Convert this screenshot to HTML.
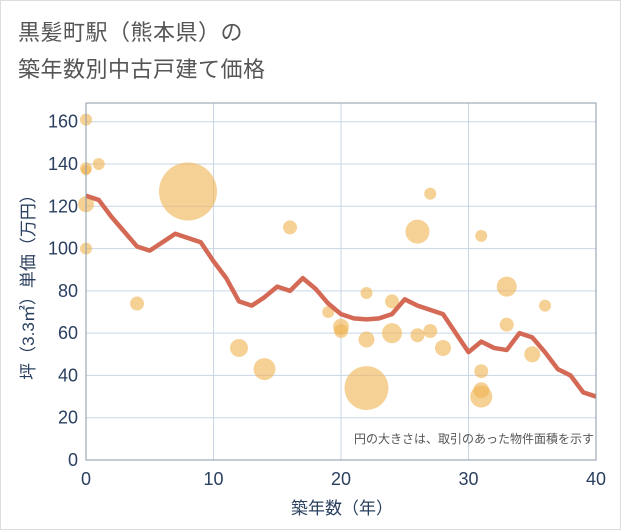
<!DOCTYPE html>
<html><head><meta charset="utf-8"><style>
body{margin:0;background:#fff;}
svg{display:block;font-family:"Liberation Sans","Noto Sans CJK JP",sans-serif;}
</style></head><body>
<svg id="c" width="621" height="530" viewBox="0 0 621 530">
<rect x="0.5" y="0.5" width="620" height="529" fill="#fff" stroke="#ddd"/>
<text x="18" y="40" font-size="22" fill="#555" letter-spacing="0.5">黒髪町駅（熊本県）の</text>
<text x="18" y="77" font-size="22" fill="#555" letter-spacing="0.5">築年数別中古戸建て価格</text>
<g id="grid"></g>
<g id="bubbles"></g>
<g id="line"></g>
<g id="axes"></g>
<text x="594" y="443" font-size="12" fill="#555" text-anchor="end">円の大きさは、取引のあった物件面積を示す</text>
<text x="342" y="514" font-size="17" fill="#2a3f5f" text-anchor="middle">築年数（年）</text>
<text transform="translate(34,283) rotate(-90)" font-size="17" fill="#2a3f5f" text-anchor="middle">坪（3.3㎡）単価（万円）</text>
</svg>
<script>
const xTicks=[0,10,20,30,40];
const yTicks=[0,20,40,60,80,100,120,140,160];
const lineYears=[0,1,2,3,4,5,6,7,8,9,10,11,12,13,14,15,16,17,18,19,20,21,22,23,24,25,26,27,28,29,30,31,32,33,34,35,36,37,38,39,40];
const lineValues=[125,123,115,108,101,99,103,107,105,103,94,86,75,73,77,82,80,86,81,74,69,67,66.5,67,69,76,73,71,69,60,51,56,53,52,60,58,51,43,40,32,30];
const bubbleYears=[0,0,0,0,0,1,4,8,16,12,14,19,20,20,22,22,22,24,24,26,26,27,27,28,31,31,31,31,33,33,35,36];
const bubbleValues=[161,138,137,121,100,140,74,127,110,53,43,70,63,61,79,57,34,75,60,108,59,126,61,53,106,42,33,30,82,64,50,73];
const bubbleSizes=[6,6,5,8,6,6,7,29,7,9,11,6,8,7,6,8,22,7,10,12,7,6,7,8,6,7,8,11,10,7,8,6];
const X0=86,X1=596,Y0=460,YT=103;
const xs=v=>X0+(X1-X0)*v/40;
const ys=v=>Y0-(Y0-121.7)*v/160;
const NS="http://www.w3.org/2000/svg";
function mk(t,a,p){const e=document.createElementNS(NS,t);for(const k in a)e.setAttribute(k,a[k]);p.appendChild(e);return e;}
const grid=document.getElementById('grid');
const bg=mk('rect',{x:X0,y:YT,width:X1-X0,height:Y0-YT,fill:'#fff'},grid);


yTicks.forEach(v=>{
 const l=mk('line',{x1:X0,x2:X1,y1:ys(v),y2:ys(v),stroke:'#c8d6e5','stroke-width':1},grid);
 
 
});
xTicks.forEach(v=>{
 const l=mk('line',{x1:xs(v),x2:xs(v),y1:YT,y2:Y0,stroke:'#c8d6e5','stroke-width':1},grid);
 
 
});
const bub=document.getElementById('bubbles');
bubbleYears.forEach((yr,i)=>{
 const c=mk('circle',{cx:xs(yr),cy:ys(bubbleValues[i]),r:bubbleSizes[i],fill:'rgba(240,178,80,0.6)'},bub);
 
 
});
const ln=document.getElementById('line');
const p=mk('polyline',{points:lineYears.map((y,i)=>xs(y)+','+ys(lineValues[i])).join(' '),fill:'none',stroke:'#d46a55','stroke-width':4.5,'stroke-linejoin':'round'},ln);


const ax=document.getElementById('axes');
const fr=mk('rect',{x:X0,y:YT,width:X1-X0,height:Y0-YT,fill:'none',stroke:'#8a99a8','stroke-width':1},ax);


yTicks.forEach(v=>{
 const t=mk('text',{x:X0-8,y:ys(v)+6,'font-size':18,fill:'#2a3f5f','text-anchor':'end'},ax);
 t.textContent=v;
 
 
});
xTicks.forEach(v=>{
 const t=mk('text',{x:xs(v),y:485,'font-size':18,fill:'#2a3f5f','text-anchor':'middle'},ax);
 t.textContent=v;
 
 
});
</script>
</body></html>
